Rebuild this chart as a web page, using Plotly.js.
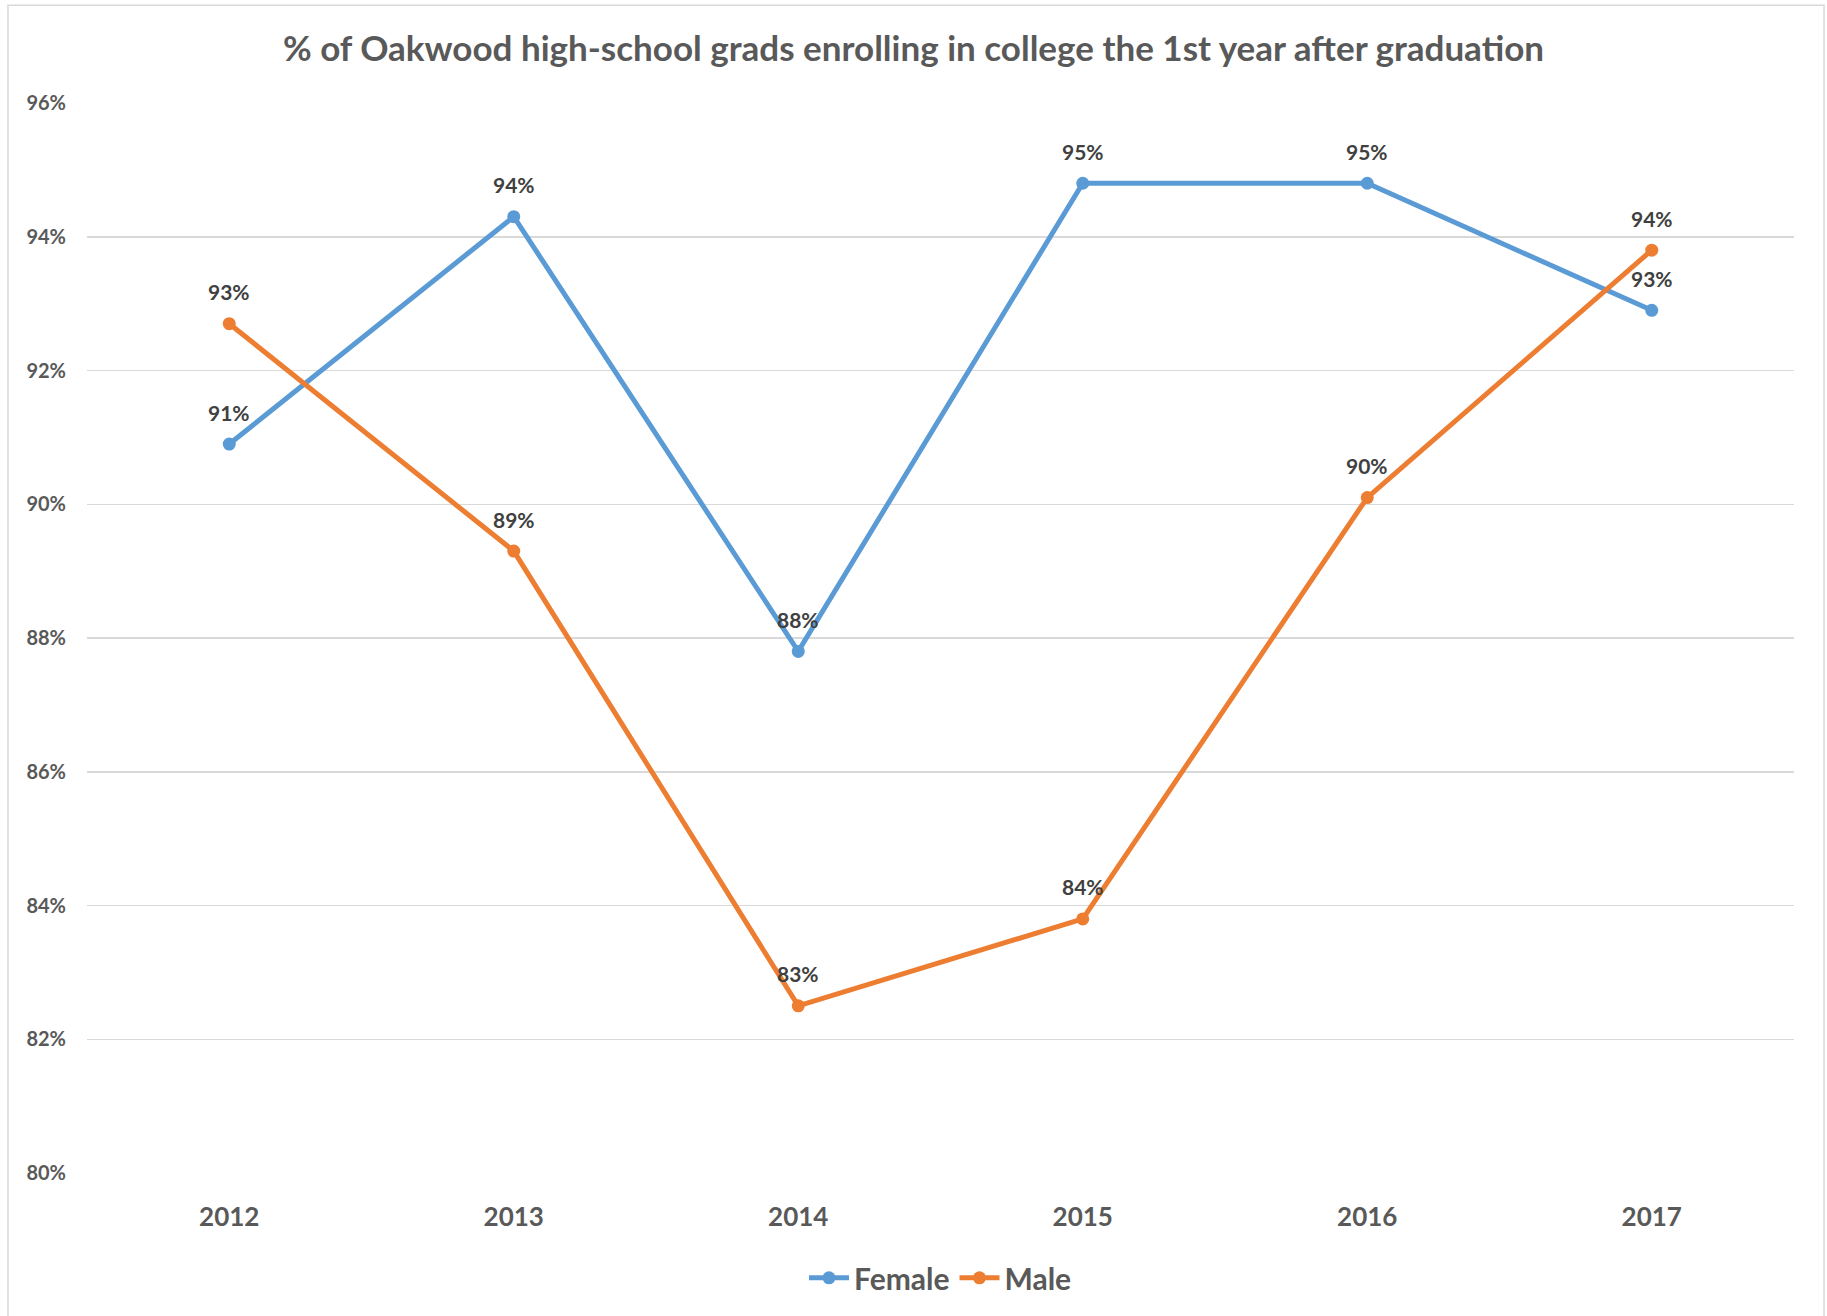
<!DOCTYPE html>
<html>
<head>
<meta charset="utf-8">
<script src="https://cdn.plot.ly/plotly-3.0.1.min.js"></script>
<style>
  body { margin: 0; background: #fff; }
  #chart { width: 1827px; height: 1316px; }
</style>
</head>
<body>
<div id="chart"></div>
<script>
// values (percent)
const years = ['2012', '2013', '2014', '2015', '2016', '2017'];
const female = [90.9, 94.3, 87.8, 94.8, 94.8, 92.9];
const male = [92.7, 89.3, 82.5, 83.8, 90.1, 93.8];
const yTicks = [80, 82, 84, 86, 88, 90, 92, 94, 96];

const blue = '#5B9BD5';
const orange = '#ED7D31';
const font = 'Lato, "Open Sans", sans-serif';

function series(name, values, color) {
    return {
        x: years,
        y: values,
        name: name,
        type: 'scatter',
        mode: 'lines+markers',
        line: { color: color, width: 5 },
        marker: { color: color, size: 13 },
        hoverinfo: 'skip'
    };
}

// data labels sit ~32px above each point (x given as category index)
function labels(values) {
    return values.map((v, i) => ({
        x: i,
        y: v,
        xref: 'x',
        yref: 'y',
        text: Math.round(v) + '%',
        showarrow: false,
        yshift: 32,
        font: { family: font, size: 21, color: '#404040', weight: 700 }
    }));
}

const layout = {
    width: 1827,
    height: 1316,
    margin: { l: 87, r: 33, t: 103, b: 141 },
    paper_bgcolor: '#fff',
    plot_bgcolor: '#fff',
    title: {
        text: '% of Oakwood high-school grads enrolling in college the 1st year after graduation',
        font: { family: font, size: 35, color: '#595959', weight: 700 },
        x: 0.5,
        xanchor: 'center',
        y: 1 - 49 / 1316,
        yanchor: 'middle'
    },
    xaxis: {
        type: 'category',
        range: [-0.5, years.length - 0.5],
        showgrid: false,
        zeroline: false,
        showline: false,
        tickfont: { family: font, size: 26, color: '#595959', weight: 700 },
        ticklabelstandoff: 26
    },
    yaxis: {
        range: [80, 96],
        tickvals: yTicks,
        ticktext: yTicks.map(t => t + '%'),
        showgrid: true,
        gridcolor: '#d9d9d9',
        gridwidth: 1.5,
        zeroline: false,
        showline: false,
        tickfont: { family: font, size: 20, color: '#595959', weight: 700 },
        ticklabelstandoff: 20
    },
    showlegend: true,
    legend: {
        orientation: 'h',
        x: 0.5,
        xanchor: 'center',
        y: -0.098,
        yanchor: 'middle',
        itemwidth: 40,
        font: { family: font, size: 30, color: '#595959', weight: 700 }
    },
    annotations: labels(female).concat(labels(male)),
    shapes: [{
        type: 'rect',
        xref: 'paper',
        yref: 'paper',
        x0: -0.0463,
        x1: 1.0176,
        y0: -0.14,
        y1: 1.0914,
        line: { color: '#d9d9d9', width: 1.5 },
        layer: 'below'
    }]
};

Plotly.newPlot('chart', [series('Female', female, blue), series('Male', male, orange)], layout, { displayModeBar: false, staticPlot: true });
</script>
</body>
</html>
